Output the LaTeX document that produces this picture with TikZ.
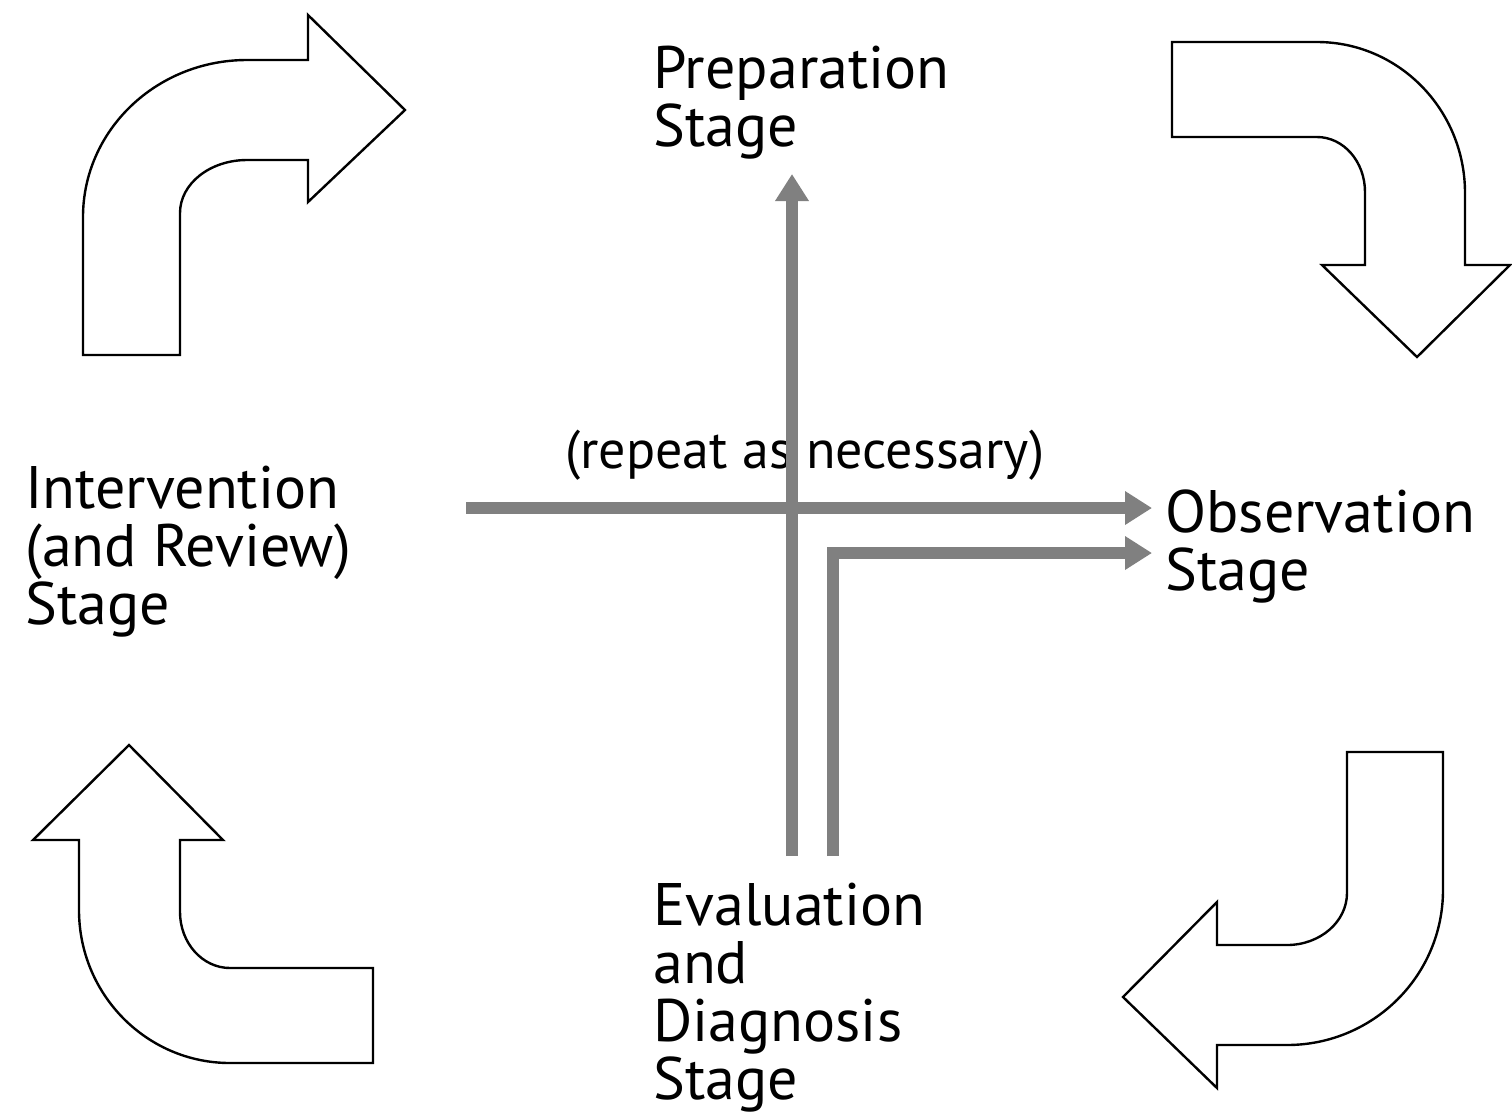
\documentclass[tikz,border=0pt]{standalone}
\usepackage{fontspec}
\setmainfont{PT Sans}
\usetikzlibrary{arrows.meta}
\definecolor{linegray}{RGB}{128,128,128}
\tikzset{
  blockarrow/.style={draw=black, fill=white, line width=1.2pt, line join=miter},
  flowline/.style={draw=linegray, line width=6pt},
  flowarrow/.style={flowline, -{Triangle[width=16pt,length=13.5pt]}},
  stagelabel/.style={anchor=base west, inner sep=0pt, align=left, font=\fontsize{30}{29}\selectfont},
  notelabel/.style={anchor=base west, inner sep=0pt, font=\fontsize{27}{29}\selectfont}
}
\begin{document}
\begin{tikzpicture}[x=0.5pt,y=-0.5pt]
\useasboundingbox (0,0) rectangle (1512,1116);
\fill[white] (0,0) rectangle (1512,1116);

% block arrows
\path[blockarrow] (83,355) -- (83,217) .. controls (83,130.3) and (156.4,60) .. (247,60)
  -- (308,60) -- (308,15) -- (405,110) -- (308,202) -- (308,160) -- (247,160)
  .. controls (210,160) and (180,183.7) .. (180,213) -- (180,355) -- cycle;

\path[blockarrow] (1172,42) -- (1317,42) .. controls (1398.7,42) and (1465,109.6) .. (1465,193)
  -- (1465,265) -- (1510,265) -- (1417,357) -- (1322,265) -- (1365,265) -- (1365,192)
  .. controls (1365,161.6) and (1343.5,137) .. (1317,137) -- (1172,137) -- cycle;

\path[blockarrow] (129,745) -- (223,840) -- (180,840) -- (180,912)
  .. controls (180,942.9) and (202.4,968) .. (230,968) -- (373,968) -- (373,1063) -- (230,1063)
  .. controls (146.6,1063) and (79,994.5) .. (79,910) -- (79,840) -- (33,840) -- cycle;

\path[blockarrow] (1347,752) -- (1443,752) -- (1443,890)
  .. controls (1443,975.6) and (1373.2,1045) .. (1287,1045) -- (1217,1045) -- (1217,1088)
  -- (1123,997) -- (1217,902) -- (1217,945) -- (1287,945)
  .. controls (1320.1,945) and (1347,921.7) .. (1347,893) -- cycle;

% labels (anchored at the baseline of their last line)
\node[stagelabel] (prep) at (653,146) {Preparation\\Stage};
\node[stagelabel] (interv) at (25,624) {Intervention\\(and Review)\\Stage};
\node[stagelabel] (obs) at (1165,590) {Observation\\Stage};
\node[stagelabel] (eval) at (653,1099) {Evaluation\\and\\Diagnosis\\Stage};
\node[notelabel] (note) at (565,468) {(repeat as necessary)};

% connector end points
\coordinate (vbot) at (792,856);
\coordinate (vtop) at (792,174);
\coordinate (hleft) at (466,508);
\coordinate (hright) at (1152,508);
\coordinate (v2bot) at (833,856);
\coordinate (v2corner) at (833,553);
\coordinate (h2right) at (1152,553);

\draw[flowarrow] (hleft) -- (hright);
\draw[flowarrow] (vbot) -- (vtop);
\draw[flowarrow, line join=miter] (v2bot) -- (v2corner) -- (h2right);
\end{tikzpicture}
\end{document}
